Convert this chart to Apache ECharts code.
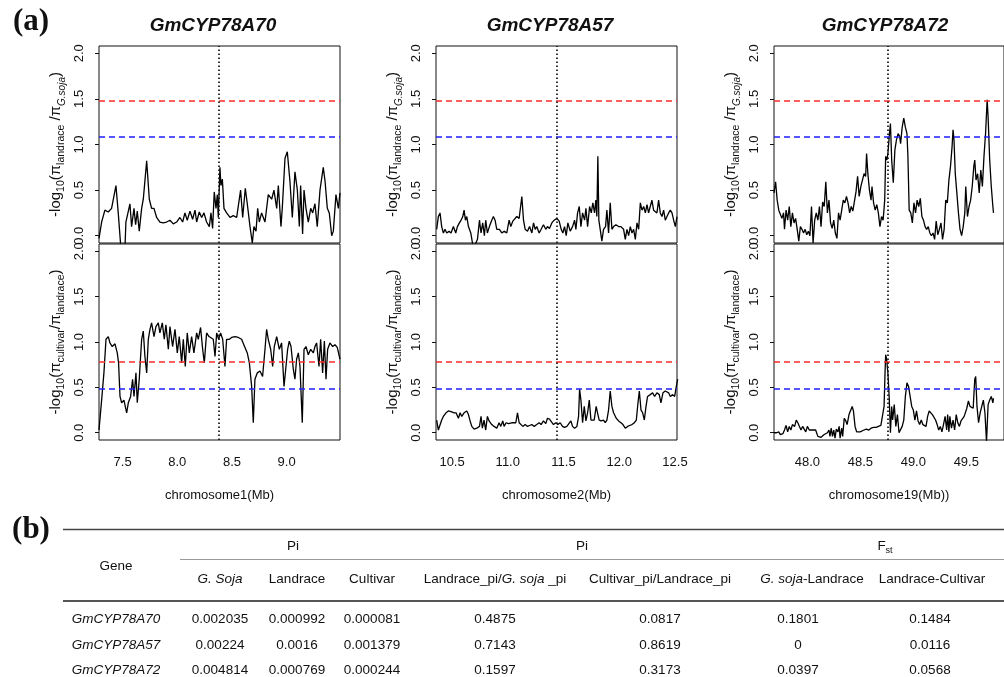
<!DOCTYPE html>
<html>
<head>
<meta charset="utf-8">
<title>GmCYP78A diversity</title>
<script src="https://cdn.jsdelivr.net/npm/echarts@6/dist/echarts.min.js"></script>
<style>
html,body{margin:0;padding:0;background:#fff;}
#chart{width:1004px;height:677px;}
</style>
</head>
<body>
<div id="chart"></div>
<script>
// ---- data (Mb, -log10 ratio) ----
var genes = ['GmCYP78A70', 'GmCYP78A57', 'GmCYP78A72'];
var chromLabels = ['chromosome1(Mb)', 'chromosome2(Mb)', 'chromosome19(Mb))'];
var xRanges = [[7.284, 9.488], [10.356, 12.518], [47.685, 49.856]];
var xTicks = [[7.5, 8.0, 8.5, 9.0], [10.5, 11.0, 11.5, 12.0, 12.5], [48.0, 48.5, 49.0, 49.5]];
var yTicks = [0, 0.5, 1.0, 1.5, 2.0];
var genePos = [8.375, 11.440, 48.760];
var softRed = 1.48, softBlue = 1.09;   // landrace / G.soja thresholds
var cultRed = 0.78, cultBlue = 0.48;   // cultivar / landrace thresholds

var chr1Landrace = [[7.284,-0.03],[7.308,0.15],[7.338,0.28],[7.369,0.26],[7.399,0.30],[7.439,0.55],[7.460,0.25],[7.482,-0.10],[7.521,-0.15],[7.530,0.15],[7.567,0.35],[7.582,0.10],[7.604,0.30],[7.619,0.12],[7.634,0.27],[7.652,0.05],[7.674,0.30],[7.689,0.40],[7.720,0.82],[7.744,0.40],[7.765,0.30],[7.787,0.30],[7.811,0.20],[7.841,0.15],[7.872,0.14],[7.902,0.15],[7.933,0.17],[7.963,0.13],[7.994,0.15],[8.024,0.20],[8.049,0.15],[8.070,0.25],[8.091,0.17],[8.116,0.27],[8.140,0.18],[8.162,0.28],[8.177,0.15],[8.201,0.26],[8.223,0.20],[8.244,0.25],[8.268,0.15],[8.293,0.10],[8.308,0.25],[8.323,0.08],[8.338,0.48],[8.354,0.30],[8.366,0.45],[8.375,0.20],[8.390,0.75],[8.399,0.55],[8.412,0.62],[8.427,0.30],[8.451,0.25],[8.482,0.20],[8.512,0.22],[8.543,0.20],[8.579,0.50],[8.598,0.20],[8.622,0.52],[8.640,0.35],[8.665,0.10],[8.686,-0.08],[8.701,0.10],[8.720,0.05],[8.735,0.30],[8.750,0.15],[8.771,0.25],[8.802,0.15],[8.832,0.45],[8.863,0.40],[8.884,0.50],[8.909,0.30],[8.924,0.55],[8.948,0.10],[8.960,0.30],[8.985,0.85],[9.006,0.92],[9.030,0.60],[9.052,0.20],[9.076,0.70],[9.098,0.50],[9.116,0.10],[9.128,0.55],[9.146,0.02],[9.159,0.50],[9.177,0.30],[9.198,0.15],[9.220,0.30],[9.238,0.25],[9.259,0.35],[9.280,0.10],[9.305,0.50],[9.335,0.75],[9.351,0.60],[9.372,0.30],[9.390,0.25],[9.412,0.00],[9.427,0.05],[9.451,0.45],[9.473,0.30],[9.488,0.47]];

var chr1Cultivar = [[7.284,0.03],[7.308,0.36],[7.329,0.66],[7.348,1.03],[7.369,1.06],[7.384,0.99],[7.405,0.95],[7.430,0.98],[7.451,0.88],[7.463,0.77],[7.476,0.40],[7.491,0.33],[7.512,0.36],[7.537,0.22],[7.552,0.33],[7.573,0.40],[7.591,0.59],[7.604,0.40],[7.622,0.66],[7.634,0.33],[7.652,0.59],[7.674,1.03],[7.689,1.12],[7.704,0.84],[7.720,0.66],[7.735,1.03],[7.750,1.14],[7.765,1.21],[7.787,1.06],[7.805,1.17],[7.826,1.21],[7.841,1.10],[7.863,1.21],[7.881,1.03],[7.896,1.19],[7.918,0.92],[7.933,1.17],[7.957,0.95],[7.979,1.14],[8.000,0.88],[8.018,1.06],[8.040,0.77],[8.055,1.03],[8.073,0.73],[8.091,1.10],[8.110,0.88],[8.131,1.06],[8.152,0.88],[8.177,1.10],[8.192,1.03],[8.213,1.16],[8.232,0.92],[8.247,0.77],[8.268,1.10],[8.290,1.06],[8.308,1.08],[8.329,1.03],[8.345,0.84],[8.360,1.10],[8.378,1.03],[8.396,1.10],[8.415,1.03],[8.436,0.73],[8.451,1.03],[8.476,1.03],[8.497,1.05],[8.527,1.06],[8.558,1.05],[8.588,1.03],[8.619,0.94],[8.640,0.88],[8.659,0.77],[8.680,0.51],[8.695,0.11],[8.710,0.59],[8.732,0.66],[8.756,0.68],[8.780,0.62],[8.802,0.92],[8.817,1.14],[8.832,1.03],[8.854,0.92],[8.872,0.73],[8.887,0.95],[8.909,1.06],[8.933,0.92],[8.954,0.99],[8.976,0.51],[8.994,0.73],[9.009,0.92],[9.024,1.01],[9.040,0.95],[9.061,0.70],[9.076,0.59],[9.091,0.81],[9.107,0.88],[9.122,0.73],[9.143,0.11],[9.159,0.92],[9.177,0.95],[9.198,0.86],[9.220,0.92],[9.244,0.88],[9.259,0.95],[9.274,0.99],[9.296,0.73],[9.311,1.03],[9.329,0.66],[9.345,1.01],[9.360,0.59],[9.375,0.92],[9.396,0.99],[9.421,0.95],[9.442,0.97],[9.463,0.94],[9.488,0.81]];

var chr2Landrace = [[10.362,0.07],[10.377,0.21],[10.392,0.25],[10.407,0.10],[10.422,0.03],[10.437,0.07],[10.452,0.03],[10.473,0.05],[10.491,0.03],[10.512,0.10],[10.533,0.03],[10.548,0.10],[10.566,0.14],[10.581,0.17],[10.596,0.21],[10.608,0.28],[10.620,0.17],[10.632,0.21],[10.647,0.10],[10.668,0.03],[10.686,-0.10],[10.707,-0.10],[10.728,-0.04],[10.746,0.17],[10.760,0.03],[10.775,0.14],[10.790,0.00],[10.802,0.17],[10.817,0.03],[10.835,0.10],[10.856,0.17],[10.871,0.21],[10.886,0.17],[10.901,0.07],[10.925,0.07],[10.946,0.03],[10.967,0.05],[10.991,0.03],[11.012,0.17],[11.027,0.10],[11.045,0.16],[11.060,0.17],[11.081,0.21],[11.102,0.19],[11.126,0.43],[11.141,0.17],[11.156,0.07],[11.177,0.05],[11.195,0.10],[11.216,0.03],[11.231,0.14],[11.246,0.07],[11.260,0.10],[11.281,0.03],[11.299,0.07],[11.320,0.12],[11.341,0.07],[11.356,0.10],[11.374,0.08],[11.395,0.14],[11.416,0.17],[11.440,0.19],[11.461,0.16],[11.479,0.07],[11.494,0.03],[11.509,0.10],[11.524,0.00],[11.539,0.14],[11.560,0.05],[11.581,0.10],[11.599,0.17],[11.611,0.07],[11.626,0.25],[11.641,0.32],[11.656,0.10],[11.671,0.25],[11.689,0.17],[11.701,0.30],[11.716,0.10],[11.734,0.32],[11.749,0.25],[11.763,0.36],[11.778,0.25],[11.790,0.39],[11.799,0.21],[11.808,0.87],[11.817,0.17],[11.829,0.07],[11.844,-0.06],[11.859,0.07],[11.877,0.10],[11.889,0.28],[11.904,0.03],[11.919,0.36],[11.934,0.07],[11.949,0.10],[11.970,0.12],[11.994,0.10],[12.015,0.10],[12.039,0.07],[12.054,-0.04],[12.069,0.07],[12.084,0.00],[12.099,0.10],[12.114,0.03],[12.129,0.07],[12.144,-0.04],[12.159,0.14],[12.174,0.07],[12.189,0.36],[12.204,0.28],[12.219,0.32],[12.234,0.25],[12.249,0.34],[12.263,0.25],[12.278,0.32],[12.293,0.39],[12.308,0.28],[12.323,0.30],[12.338,0.25],[12.353,0.39],[12.368,0.25],[12.383,0.21],[12.398,0.28],[12.413,0.17],[12.428,0.21],[12.443,0.25],[12.458,0.28],[12.473,0.25],[12.488,0.17],[12.503,0.10],[12.518,0.21]];

var chr2Cultivar = [[10.362,0.14],[10.377,0.03],[10.392,0.01],[10.407,0.14],[10.422,0.18],[10.446,0.22],[10.467,0.24],[10.497,0.23],[10.518,0.22],[10.536,0.22],[10.557,0.16],[10.572,0.22],[10.587,0.18],[10.608,0.22],[10.632,0.24],[10.647,0.20],[10.662,0.13],[10.677,0.07],[10.698,0.04],[10.722,0.05],[10.746,0.07],[10.760,0.18],[10.772,0.05],[10.787,0.14],[10.802,0.03],[10.817,0.18],[10.832,0.13],[10.856,0.09],[10.877,0.07],[10.901,0.05],[10.922,0.11],[10.937,0.07],[10.955,0.13],[10.967,0.07],[10.985,0.11],[11.006,0.10],[11.021,0.11],[11.036,0.11],[11.051,0.11],[11.072,0.11],[11.087,0.22],[11.102,0.11],[11.117,0.09],[11.135,0.07],[11.156,0.09],[11.177,0.07],[11.195,0.08],[11.216,0.09],[11.237,0.07],[11.260,0.09],[11.281,0.11],[11.299,0.09],[11.320,0.13],[11.341,0.10],[11.356,0.16],[11.374,0.15],[11.389,0.16],[11.410,0.09],[11.431,0.11],[11.449,0.09],[11.470,0.11],[11.491,0.07],[11.509,0.06],[11.530,0.07],[11.545,0.05],[11.566,0.13],[11.581,0.07],[11.599,0.05],[11.620,0.07],[11.635,0.18],[11.644,0.48],[11.656,0.36],[11.671,0.11],[11.686,0.29],[11.701,0.13],[11.716,0.22],[11.731,0.36],[11.746,0.14],[11.760,0.13],[11.775,0.14],[11.793,0.29],[11.805,0.22],[11.820,0.14],[11.838,0.13],[11.859,0.14],[11.874,0.11],[11.889,0.14],[11.904,0.25],[11.919,0.46],[11.934,0.29],[11.949,0.22],[11.973,0.16],[11.994,0.13],[12.015,0.11],[12.033,0.09],[12.054,0.05],[12.075,0.07],[12.093,0.08],[12.114,0.09],[12.135,0.11],[12.153,0.14],[12.168,0.33],[12.180,0.46],[12.195,0.25],[12.210,0.22],[12.225,0.14],[12.240,0.29],[12.254,0.40],[12.278,0.42],[12.299,0.44],[12.317,0.40],[12.338,0.44],[12.359,0.42],[12.374,0.33],[12.392,0.44],[12.413,0.46],[12.428,0.48],[12.443,0.44],[12.458,0.40],[12.479,0.42],[12.497,0.40],[12.512,0.51],[12.524,0.59]];

var chr19Landrace = [[47.685,0.47],[47.700,0.59],[47.715,0.39],[47.730,0.28],[47.745,0.30],[47.760,0.19],[47.775,0.25],[47.784,0.07],[47.799,0.28],[47.814,0.17],[47.829,0.32],[47.844,0.10],[47.859,0.25],[47.874,0.14],[47.889,0.19],[47.904,0.07],[47.919,-0.06],[47.934,0.10],[47.949,0.07],[47.964,0.03],[47.979,0.07],[47.994,0.01],[48.009,0.05],[48.024,0.00],[48.039,0.32],[48.054,-0.08],[48.069,0.17],[48.084,0.25],[48.099,0.17],[48.114,0.32],[48.129,0.10],[48.144,0.37],[48.159,0.32],[48.174,0.59],[48.189,0.25],[48.204,0.39],[48.219,0.14],[48.234,0.08],[48.249,0.17],[48.264,0.03],[48.279,-0.03],[48.294,0.25],[48.309,0.17],[48.324,0.28],[48.339,0.39],[48.354,0.36],[48.369,0.43],[48.384,0.36],[48.399,0.25],[48.414,0.32],[48.429,0.27],[48.444,0.25],[48.459,0.48],[48.474,0.65],[48.489,0.43],[48.505,0.54],[48.520,0.61],[48.535,0.68],[48.550,0.65],[48.559,0.90],[48.571,0.68],[48.586,0.50],[48.601,0.39],[48.610,0.54],[48.625,0.36],[48.640,0.28],[48.655,0.34],[48.670,0.25],[48.685,0.10],[48.700,0.21],[48.715,0.17],[48.730,0.39],[48.739,0.87],[48.751,0.83],[48.760,0.90],[48.775,1.12],[48.784,1.23],[48.796,0.83],[48.811,0.58],[48.826,0.94],[48.841,1.05],[48.856,1.12],[48.871,1.09],[48.880,1.01],[48.895,1.19],[48.910,1.29],[48.925,1.19],[48.940,1.12],[48.949,0.87],[48.961,0.28],[48.976,0.25],[48.991,0.14],[49.006,0.36],[49.021,0.25],[49.036,0.39],[49.051,0.32],[49.066,0.41],[49.081,0.21],[49.096,0.17],[49.111,0.10],[49.126,0.07],[49.141,0.10],[49.156,0.03],[49.171,0.00],[49.186,0.03],[49.201,-0.04],[49.216,0.16],[49.231,0.01],[49.246,0.07],[49.261,0.14],[49.276,-0.04],[49.291,0.07],[49.306,0.39],[49.321,0.36],[49.336,0.61],[49.351,0.76],[49.366,0.98],[49.375,1.16],[49.384,1.05],[49.396,0.68],[49.411,0.47],[49.426,0.25],[49.441,0.07],[49.456,0.00],[49.471,0.10],[49.486,0.25],[49.495,0.54],[49.511,0.21],[49.526,0.32],[49.541,0.39],[49.556,0.54],[49.571,0.76],[49.580,0.83],[49.592,0.61],[49.607,0.68],[49.622,0.47],[49.637,0.72],[49.652,0.54],[49.667,0.87],[49.682,1.12],[49.697,1.49],[49.706,1.30],[49.721,0.83],[49.736,0.54],[49.751,0.32],[49.757,0.25]];

var chr19Cultivar = [[47.685,0.00],[47.709,0.00],[47.730,0.01],[47.745,-0.02],[47.769,-0.01],[47.784,0.03],[47.799,0.08],[47.814,0.01],[47.829,0.07],[47.844,0.03],[47.859,0.09],[47.880,0.07],[47.895,0.14],[47.910,0.11],[47.925,0.07],[47.940,0.03],[47.955,0.07],[47.970,0.05],[47.985,0.01],[48.000,0.07],[48.018,0.03],[48.033,0.05],[48.048,0.03],[48.063,0.05],[48.078,0.03],[48.093,0.01],[48.099,-0.04],[48.114,-0.02],[48.129,-0.05],[48.144,-0.04],[48.159,-0.02],[48.174,-0.04],[48.189,0.00],[48.204,0.03],[48.213,-0.04],[48.225,0.05],[48.237,-0.04],[48.249,0.03],[48.261,-0.06],[48.273,0.04],[48.288,0.01],[48.300,0.07],[48.309,-0.06],[48.324,0.05],[48.333,-0.04],[48.348,0.16],[48.363,0.13],[48.375,0.09],[48.393,0.20],[48.408,0.22],[48.423,0.29],[48.435,0.24],[48.450,0.07],[48.465,0.01],[48.480,0.03],[48.498,0.01],[48.514,0.03],[48.535,0.03],[48.556,0.04],[48.580,0.03],[48.601,0.05],[48.625,0.06],[48.649,0.06],[48.670,0.07],[48.694,0.08],[48.712,0.07],[48.724,0.29],[48.733,0.66],[48.739,0.86],[48.748,0.81],[48.760,0.66],[48.772,0.40],[48.784,0.00],[48.796,0.29],[48.805,0.14],[48.820,0.31],[48.835,0.07],[48.850,0.20],[48.865,0.00],[48.880,-0.02],[48.895,0.07],[48.910,0.14],[48.925,0.40],[48.940,0.55],[48.955,0.51],[48.970,0.40],[48.985,0.29],[49.000,0.25],[49.015,0.14],[49.030,0.24],[49.045,0.13],[49.060,0.09],[49.075,0.14],[49.090,0.09],[49.105,0.11],[49.120,0.07],[49.135,0.18],[49.150,0.24],[49.165,0.22],[49.180,0.20],[49.195,0.22],[49.210,0.14],[49.225,0.09],[49.240,0.03],[49.255,0.07],[49.270,0.01],[49.285,0.09],[49.300,0.18],[49.315,0.03],[49.324,0.20],[49.336,0.01],[49.345,0.18],[49.360,0.05],[49.375,0.14],[49.390,0.03],[49.405,0.20],[49.420,0.11],[49.435,0.07],[49.450,0.13],[49.465,0.14],[49.480,0.18],[49.495,0.16],[49.505,0.27],[49.520,0.35],[49.535,0.29],[49.550,0.31],[49.565,0.27],[49.580,0.59],[49.589,0.62],[49.601,0.29],[49.616,0.11],[49.631,0.22],[49.646,0.29],[49.661,0.36],[49.676,0.22],[49.691,-0.10],[49.706,0.31],[49.721,0.36],[49.736,0.40],[49.751,0.33],[49.757,0.38]];

// ---- table (b) ----
var tableGenes = ['GmCYP78A70', 'GmCYP78A57', 'GmCYP78A72'];
var piSoja = ['0.002035', '0.00224', '0.004814'];
var piLandrace = ['0.000992', '0.0016', '0.000769'];
var piCultivar = ['0.000081', '0.001379', '0.000244'];
var ratioLandSoja = ['0.4875', '0.7143', '0.1597'];
var ratioCultLand = ['0.0817', '0.8619', '0.3173'];
var fstSojaLand = ['0.1801', '0', '0.0397'];
var fstLandCult = ['0.1484', '0.0116', '0.0568'];

var FONT = "'Liberation Sans', Arial, Helvetica, sans-serif";
var SERIF = "'Liberation Serif', 'Times New Roman', serif";

var topSeries = [chr1Landrace, chr2Landrace, chr19Landrace];
var botSeries = [chr1Cultivar, chr2Cultivar, chr19Cultivar];

var colLeft = [99, 436, 774], colWidth = 241;

var subRich = {
    s: {fontSize: 10.5, fontFamily: FONT, color: '#111', verticalAlign: 'bottom', lineHeight: 10, padding: [0, 0, -3, 0]},
    si: {fontSize: 10, fontStyle: 'italic', fontFamily: FONT, color: '#111', verticalAlign: 'bottom', lineHeight: 10, padding: [0, 0, -3, 0]}
};
var topName = '-log{s|10}(π{s|landrace} /π{si|G.soja})';
var botName = '-log{s|10}(π{s|cultivar}/π{s|landrace})';

function fmt1(v) { return Number(v).toFixed(1); }

var grids = [], xAxes = [], yAxes = [], series = [];

for (var c = 0; c < 3; c++) {
    for (var r = 0; r < 2; r++) {
        var idx = c * 2 + r, bottom = r === 1;
        grids.push({
            left: colLeft[c], width: colWidth,
            top: bottom ? 244 : 46, height: bottom ? 196 : 197,
            show: true, borderColor: '#111', borderWidth: 1, backgroundColor: 'transparent'
        });
        xAxes.push({
            type: 'value', gridIndex: idx, min: xRanges[c][0], max: xRanges[c][1],
            axisLine: {show: false}, axisTick: {show: false}, splitLine: {show: false},
            axisLabel: {
                show: bottom, customValues: xTicks[c], formatter: fmt1, margin: 16,
                fontSize: 13, color: '#111', fontFamily: FONT
            },
            name: bottom ? chromLabels[c] : '', nameLocation: 'middle', nameGap: 49,
            nameTextStyle: {fontSize: 13, color: '#111', fontFamily: FONT}
        });
        yAxes.push({
            type: 'value', gridIndex: idx, min: -0.08, max: 2.08,
            axisLine: {show: false}, splitLine: {show: false},
            axisTick: {show: true, length: 4, customValues: yTicks, lineStyle: {color: '#111'}},
            axisLabel: {
                customValues: yTicks, formatter: fmt1, rotate: 90, margin: 13,
                fontSize: 13, color: '#111', fontFamily: FONT
            },
            name: bottom ? botName : topName, nameLocation: 'middle', nameRotate: 90, nameGap: 35,
            nameTextStyle: {fontSize: 15, color: '#111', fontFamily: FONT, lineHeight: 16, rich: subRich}
        });
        series.push({
            type: 'line', xAxisIndex: idx, yAxisIndex: idx,
            data: bottom ? botSeries[c] : topSeries[c],
            showSymbol: false, symbol: 'none', animation: false, z: 3,
            lineStyle: {color: '#000', width: 1.3},
            markLine: {
                silent: true, symbol: ['none', 'none'], label: {show: false}, animation: false,
                data: [
                    {yAxis: bottom ? cultRed : softRed, lineStyle: {color: '#ff2a2a', type: [6, 4], width: 1.5}},
                    {yAxis: bottom ? cultBlue : softBlue, lineStyle: {color: '#1f1fff', type: [6, 4], width: 1.5}},
                    {xAxis: genePos[c], lineStyle: {color: '#111', type: [1.5, 2.5], width: 1.7}}
                ]
            }
        });
    }
}

// ---- graphic: panel letters, gene titles, table ----
var graphics = [];
function txt(x, y, text, opt) {
    opt = opt || {};
    graphics.push({
        type: 'text', x: x, y: y, silent: true,
        style: {
            text: text, fill: '#111',
            fontSize: opt.size || 13.5, fontFamily: opt.family || FONT,
            fontStyle: opt.italic ? 'italic' : 'normal', fontWeight: opt.bold ? 'bold' : 'normal',
            align: opt.align || 'center', verticalAlign: 'middle', rich: opt.rich
        }
    });
}
function hline(x1, x2, y, w, color) {
    graphics.push({type: 'line', silent: true, shape: {x1: x1, y1: y, x2: x2, y2: y}, style: {stroke: color, lineWidth: w}});
}

txt(31, 22, '(a)', {size: 31, bold: true, family: SERIF});
txt(31, 530, '(b)', {size: 31, bold: true, family: SERIF});
var titleX = [213, 550, 885];
for (var g = 0; g < 3; g++) txt(titleX[g], 26, genes[g], {size: 19, bold: true, italic: true});

hline(63, 1004, 529.5, 1.5, '#444');
hline(180, 1004, 559.5, 1, '#9a9a9a');
hline(63, 1004, 601, 2, '#555');

var it = {i: {fontStyle: 'italic', fontSize: 13.5, fontFamily: FONT}, n: {fontSize: 13.5, fontFamily: FONT}, sb: {fontSize: 9, fontFamily: FONT, verticalAlign: 'bottom', padding: [0, 0, -2, 0]}};
txt(293, 546, 'Pi');
txt(582, 546, 'Pi');
txt(885, 546, '{n|F}{sb|st}', {rich: it});
txt(116, 566, 'Gene');
txt(220, 579, 'G. Soja', {italic: true});
txt(297, 579, 'Landrace');
txt(372, 579, 'Cultivar');
txt(495, 579, '{n|Landrace_pi/}{i|G. soja}{n| _pi}', {rich: it});
txt(660, 579, 'Cultivar_pi/Landrace_pi');
txt(812, 579, '{i|G. soja}{n|-Landrace}', {rich: it});
txt(932, 579, 'Landrace-Cultivar');

var rowY = [619, 645, 670];
var colX = [116, 220, 297, 372, 495, 660, 798, 930];
var cols = [tableGenes, piSoja, piLandrace, piCultivar, ratioLandSoja, ratioCultLand, fstSojaLand, fstLandCult];
for (var row = 0; row < 3; row++) {
    for (var k = 0; k < cols.length; k++) {
        txt(colX[k], rowY[row], cols[k][row], {italic: k === 0});
    }
}

var chart = echarts.init(document.getElementById('chart'), null, {renderer: 'canvas'});
chart.setOption({
    animation: false,
    backgroundColor: '#fff',
    grid: grids,
    xAxis: xAxes,
    yAxis: yAxes,
    series: series,
    graphic: graphics
});
</script>
</body>
</html>
